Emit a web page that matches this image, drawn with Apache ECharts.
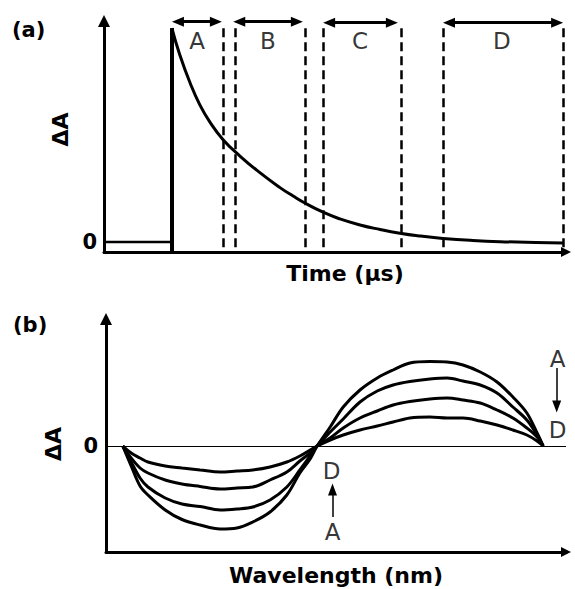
<!DOCTYPE html>
<html><head><meta charset="utf-8">
<script src="https://cdn.jsdelivr.net/npm/echarts@6/dist/echarts.min.js"></script>
<style>html,body{margin:0;padding:0;background:#fff;}#chart{width:575px;height:589px;}</style>
</head><body><div id="chart"></div>
<script>
// ---------- Panel (a): transient decay ----------
const baselineTime = [0, 14.5];
const baselineValue = [0, 0];
const pulseTime = 14.5;
const pulseTop = 0.99;
const decayTime  = [14.5, 16.2, 18.4, 20.5, 22.6, 25.4, 29.1, 33.3, 37.6, 40.4, 42.9, 46.8, 50.4, 54.7, 59.0, 63.2, 67.5, 72.4, 78.2, 84.6, 98.1];
const decayValue = [0.99, 0.866, 0.736, 0.634, 0.556, 0.475, 0.397, 0.321, 0.252, 0.213, 0.181, 0.138, 0.107, 0.079, 0.058, 0.041, 0.028, 0.017, 0.008, 0.002, -0.004];
const windowEdges = [25.4, 28.0, 42.9, 46.8, 63.5, 72.4, 98.1];
const windowLabels = ['A', 'B', 'C', 'D'];
const windowArrowStart = [15.8, 28.9, 48.1, 73.7];
const windowArrowEnd   = [23.9, 41.2, 61.5, 96.8];
const windowArrowLevel = [1.02, 1.02, 1.015, 1.015];
const windowLabelTime  = [19.9, 35.0, 54.7, 85.0];
const windowLabelLevel = [0.93, 0.93, 0.93, 0.93];

// ---------- Panel (b): spectra ----------
const wavelength = [3.6, 5.4, 7.3, 9.0, 12.7, 16.3, 20.2, 24.5, 28.1, 31.5, 35.2, 38.8, 41.6, 43.8, 45.3, 48.1, 50.9, 54.5, 58.2, 61.6, 65.2, 69.5, 73.2, 76.6, 80.3, 83.9, 87.3, 90.3, 92.5, 93.8];
const spectrumA = [0, -0.20, -0.40, -0.49, -0.64, -0.735, -0.79, -0.83, -0.82, -0.76, -0.66, -0.49, -0.27, -0.13, 0, 0.19, 0.39, 0.56, 0.68, 0.76, 0.83, 0.845, 0.84, 0.81, 0.74, 0.64, 0.49, 0.33, 0.13, 0];
const spectrumB = [0, -0.16, -0.32, -0.41, -0.52, -0.58, -0.605, -0.64, -0.63, -0.61, -0.54, -0.41, -0.24, -0.10, 0, 0.14, 0.27, 0.44, 0.55, 0.61, 0.645, 0.67, 0.68, 0.65, 0.61, 0.53, 0.39, 0.26, 0.11, 0];
const spectrumC = [0, -0.12, -0.22, -0.27, -0.34, -0.38, -0.405, -0.43, -0.42, -0.41, -0.34, -0.26, -0.15, -0.07, 0, 0.08, 0.18, 0.28, 0.35, 0.41, 0.445, 0.47, 0.48, 0.46, 0.43, 0.36, 0.28, 0.18, 0.09, 0];
const spectrumD = [0, -0.07, -0.12, -0.16, -0.20, -0.22, -0.24, -0.26, -0.25, -0.24, -0.21, -0.16, -0.10, -0.04, 0, 0.06, 0.11, 0.16, 0.20, 0.24, 0.28, 0.29, 0.28, 0.28, 0.25, 0.21, 0.16, 0.11, 0.05, 0];
const spectrumLabels = ['A', 'D', 'D', 'A'];
const spectrumLabelX = [96.9, 96.9, 48.4, 48.6];
const spectrumLabelY = [0.87, 0.16, -0.245, -0.86];
const spectrumArrows = [
  { x: 96.7, from: 0.78, to: 0.395 },
  { x: 48.6, from: -0.71, to: -0.435 }
];

const FONT = 'DejaVu Sans';
const BLACK = '#000';
const pairs = (xs, ys) => xs.map((x, i) => [x, ys[i]]);

const chart = echarts.init(document.getElementById('chart'), null, { renderer: 'svg' });

function axisLineStyle(size) {
  return { show: true, onZero: false, symbol: ['none', 'triangle'], symbolSize: size,
           lineStyle: { color: BLACK, width: 3 } };
}
const nameStyle = { fontFamily: FONT, fontWeight: 'bold', fontSize: 22, color: BLACK };

const option = {
  animation: false,
  backgroundColor: '#fff',
  title: [
    { text: '(a)', left: 12, top: 19, padding: 0, textStyle: { fontFamily: FONT, fontWeight: 'bold', fontSize: 21, color: BLACK } },
    { text: '(b)', left: 13, top: 314, padding: 0, textStyle: { fontFamily: FONT, fontWeight: 'bold', fontSize: 21, color: BLACK } }
  ],
  grid: [
    { left: 104, top: 21, width: 462, height: 231 },
    { left: 106, top: 319, width: 460, height: 233 }
  ],
  xAxis: [
    { gridIndex: 0, type: 'value', min: 0, max: 98.7, axisLine: axisLineStyle([10, 10]),
      axisTick: { show: false }, axisLabel: { show: false }, splitLine: { show: false },
      name: 'Time (µs)', nameLocation: 'middle', nameGap: 10,
      nameTextStyle: Object.assign({ padding: [0, 0, 0, 20] }, nameStyle) },
    { gridIndex: 1, type: 'value', min: 0, max: 98.7, axisLine: axisLineStyle([10, 10]),
      axisTick: { show: false }, axisLabel: { show: false }, splitLine: { show: false },
      name: 'Wavelength (nm)', nameLocation: 'middle', nameGap: 12,
      nameTextStyle: Object.assign({}, nameStyle) }
  ],
  yAxis: [
    { gridIndex: 0, type: 'value', min: -0.046, max: 1.023, axisLine: axisLineStyle([12, 12]),
      axisTick: { show: false }, splitLine: { show: false },
      axisLabel: { show: true, customValues: [0], margin: 7, fontFamily: FONT, fontWeight: 'bold', fontSize: 21, color: BLACK },
      name: 'ΔA', nameLocation: 'middle', nameRotate: 90, nameGap: 22,
      nameTextStyle: Object.assign({ padding: [0, 0, 0, 14] }, nameStyle) },
    { gridIndex: 1, type: 'value', min: -1.06, max: 1.27, axisLine: axisLineStyle([12, 12]),
      axisTick: { show: false }, splitLine: { show: false },
      axisLabel: { show: true, customValues: [0], margin: 8, fontFamily: FONT, fontWeight: 'bold', fontSize: 21, color: BLACK },
      name: 'ΔA', nameLocation: 'middle', nameRotate: 90, nameGap: 42,
      nameTextStyle: Object.assign({ padding: [0, 17, 0, 0] }, nameStyle) }
  ],
  series: [
    { name: 'baseline', type: 'line', xAxisIndex: 0, yAxisIndex: 0, data: pairs(baselineTime, baselineValue),
      symbol: 'none', clip: false, lineStyle: { color: BLACK, width: 2.5 }, silent: true,
      markLine: { silent: true, symbol: 'none', label: { show: false }, animation: false,
        lineStyle: { color: BLACK, width: 4, type: 'solid' },
        data: [[{ coord: [pulseTime, -0.046] }, { coord: [pulseTime, pulseTop] }]] } },
    { name: 'decay', type: 'line', xAxisIndex: 0, yAxisIndex: 0, data: pairs(decayTime, decayValue),
      symbol: 'none', smooth: 0.5, clip: false, lineStyle: { color: BLACK, width: 3 }, silent: true,
      markLine: { silent: true, symbol: 'none', label: { show: false }, animation: false,
        lineStyle: { color: BLACK, width: 2.5, type: [9, 5] },
        data: windowEdges.map(t => [{ coord: [t, 0.99] }, { coord: [t, -0.046] }]) } },
    { name: 'windows', type: 'line', xAxisIndex: 0, yAxisIndex: 0, data: [], symbol: 'none', clip: false, silent: true,
      markLine: { silent: true, symbol: ['triangle', 'triangle'], symbolSize: [10, 12], label: { show: false }, animation: false,
        lineStyle: { color: BLACK, width: 3, type: 'solid' }, itemStyle: { color: BLACK },
        data: windowArrowStart.map((s, i) => [{ coord: [s, windowArrowLevel[i]] }, { coord: [windowArrowEnd[i], windowArrowLevel[i]] }]) } },
    { name: 'windowLabels', type: 'scatter', xAxisIndex: 0, yAxisIndex: 0, clip: false, silent: true,
      symbolSize: 1, itemStyle: { color: 'rgba(0,0,0,0)' },
      data: windowLabelTime.map((t, i) => ({ value: [t, windowLabelLevel[i]], name: windowLabels[i] })),
      label: { show: true, position: 'inside', formatter: p => p.name, fontFamily: FONT, fontSize: 23, color: BLACK } },
    { name: 'A', type: 'line', xAxisIndex: 1, yAxisIndex: 1, data: pairs(wavelength, spectrumA), symbol: 'none', smooth: 0.35,
      lineStyle: { color: BLACK, width: 3 }, silent: true,
      markLine: { silent: true, symbol: 'none', label: { show: false }, animation: false,
        lineStyle: { color: BLACK, width: 1.2, type: 'solid' }, data: [{ yAxis: 0 }] } },
    { name: 'B', type: 'line', xAxisIndex: 1, yAxisIndex: 1, data: pairs(wavelength, spectrumB), symbol: 'none', smooth: 0.35,
      lineStyle: { color: BLACK, width: 3 }, silent: true },
    { name: 'C', type: 'line', xAxisIndex: 1, yAxisIndex: 1, data: pairs(wavelength, spectrumC), symbol: 'none', smooth: 0.35,
      lineStyle: { color: BLACK, width: 3 }, silent: true },
    { name: 'D', type: 'line', xAxisIndex: 1, yAxisIndex: 1, data: pairs(wavelength, spectrumD), symbol: 'none', smooth: 0.35,
      lineStyle: { color: BLACK, width: 3 }, silent: true },
    { name: 'spectrumArrows', type: 'line', xAxisIndex: 1, yAxisIndex: 1, data: [], symbol: 'none', clip: false, silent: true,
      markLine: { silent: true, symbol: ['none', 'triangle'], symbolSize: [9, 12], label: { show: false }, animation: false,
        lineStyle: { color: BLACK, width: 1.5, type: 'solid' }, itemStyle: { color: BLACK },
        data: spectrumArrows.map(a => [{ coord: [a.x, a.from] }, { coord: [a.x, a.to] }]) } },
    { name: 'spectrumLabels', type: 'scatter', xAxisIndex: 1, yAxisIndex: 1, clip: false, silent: true,
      symbolSize: 1, itemStyle: { color: 'rgba(0,0,0,0)' },
      data: spectrumLabelX.map((x, i) => ({ value: [x, spectrumLabelY[i]], name: spectrumLabels[i] })),
      label: { show: true, position: 'inside', formatter: p => p.name, fontFamily: FONT, fontSize: 23, color: BLACK } }
  ]
};
chart.setOption(option);
</script>
</body></html>
